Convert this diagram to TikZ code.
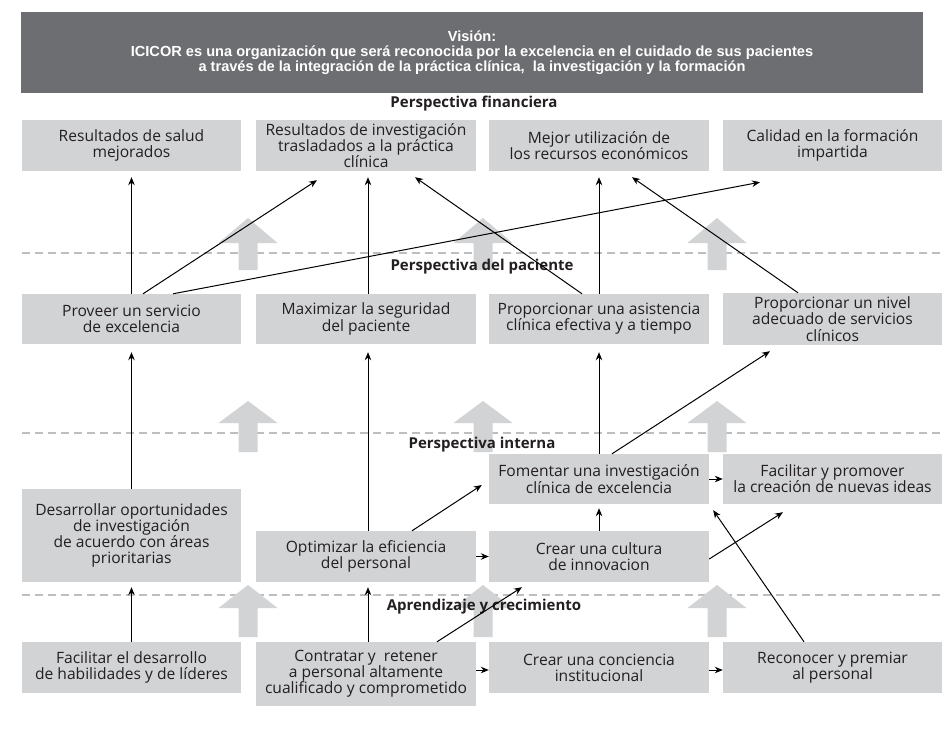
\documentclass[tikz,border=0pt]{standalone}
\usepackage{fontspec}
\setmainfont{Open Sans}
\newfontfamily\visfont{Liberation Sans}
\usetikzlibrary{arrows.meta}
\definecolor{boxgray}{HTML}{D1D3D4}
\definecolor{visgray}{HTML}{6D6E71}
\definecolor{dashgray}{HTML}{BCBEC0}
\definecolor{textc}{HTML}{231F20}
\begin{document}
\begin{tikzpicture}[x=1pt,y=-1pt,
  box/.style={fill=boxgray, inner sep=0pt, align=center, text=textc, font=\fontsize{15.6}{16.2}\selectfont},
  lab/.style={inner sep=0pt, text=textc, font=\fontsize{15}{16}\selectfont\bfseries},
  conn/.style={draw=black, line width=1pt, -{Stealth[length=8pt,width=6.5pt]}},
  sep/.style={draw=dashgray, line width=2pt, dash pattern=on 8pt off 5pt},
  bigarrow/.style={fill=boxgray}]
\useasboundingbox (0,0) rectangle (944,750);
\fill[white] (0,0) rectangle (944,750);

% vision
\node[fill=visgray, minimum width=902pt, minimum height=81pt, inner sep=0pt, text=white, align=center,
  font=\visfont\bfseries\fontsize{14.6}{15}\selectfont] (vis) at (472,52.5)
  {Visión:\\ICICOR es una organización que será reconocida por la excelencia en el cuidado de sus pacientes\\a través de la integración de la práctica clínica,\ \ la investigación y la formación};

% separators
\foreach \yy in {253,433,595} \draw[sep] (22,\yy) -- (942,\yy);

% big arrows
\foreach \tip/\base/\bot in {218/243/270, 401/423/452, 585/608/637}{
  \foreach \cx in {248,483,717}{
    \fill[bigarrow] (\cx,\tip) -- (\cx+29.5,\base) -- (\cx+9.5,\base) -- (\cx+9.5,\bot)
      -- (\cx-9.5,\bot) -- (\cx-9.5,\base) -- (\cx-29.5,\base) -- cycle;
  }
}

% section labels
\node[lab] (l1) at (474,104) {Perspectiva financiera};
\node[lab] (l2) at (482,267) {Perspectiva del paciente};
\node[lab] (l3) at (482,445) {Perspectiva interna};
\node[lab] (l4) at (484,607) {Aprendizaje y crecimiento};

% row 1
\node[box, minimum width=219pt, minimum height=51pt] (r1a) at (131.5,145.5) {Resultados de salud\\mejorados};
\node[box, minimum width=220pt, minimum height=51pt] (r1b) at (366,145.5) {Resultados de investigación\\trasladados a la práctica\\clínica};
\node[box, minimum width=220pt, minimum height=51pt] (r1c) at (599,145.5) {Mejor utilización de\\los recursos económicos};
\node[box, minimum width=219pt, minimum height=51pt] (r1d) at (832.5,145.5) {Calidad en la formación\\impartida};

% row 2
\node[box, minimum width=219pt, minimum height=50pt] (r2a) at (131.5,319) {Proveer un servicio\\de excelencia};
\node[box, minimum width=220pt, minimum height=50pt] (r2b) at (366,319) {Maximizar la seguridad\\del paciente};
\node[box, minimum width=220pt, minimum height=50pt] (r2c) at (599,319) {Proporcionar una asistencia\\clínica efectiva y a tiempo};
\node[box, minimum width=219pt, minimum height=52pt] (r2d) at (832.5,319) {Proporcionar un nivel\\adecuado de servicios\\clínicos};

% row 3
\node[box, minimum width=219pt, minimum height=93pt] (r3a) at (131.5,535.5) {Desarrollar oportunidades\\de investigación\\de acuerdo con áreas\\prioritarias};
\node[box, minimum width=220pt, minimum height=51pt] (r3b) at (366,556.5) {Optimizar la eficiencia\\del personal};
\node[box, minimum width=220pt, minimum height=50pt] (fom) at (599,479) {Fomentar una investigación\\clínica de excelencia};
\node[box, minimum width=219pt, minimum height=50pt] (fac) at (832.5,479) {Facilitar y promover\\la creación de nuevas ideas};
\node[box, minimum width=220pt, minimum height=51pt] (cul) at (599,556.5) {Crear una cultura\\de innovacion};

% row 4
\node[box, minimum width=219pt, minimum height=51pt] (r4a) at (131.5,667.5) {Facilitar el desarrollo\\de habilidades y de líderes};
\node[box, minimum width=220pt, minimum height=64pt] (r4b) at (366,674) {Contratar y\ \ retener\\a personal altamente\\cualificado y comprometido};
\node[box, minimum width=220pt, minimum height=51pt] (r4c) at (599,667.5) {Crear una conciencia\\institucional};
\node[box, minimum width=219pt, minimum height=51pt] (r4d) at (832.5,667.5) {Reconocer y premiar\\al personal};

% connectors row2 -> row1
\draw[conn] (r2a.north) -- ([yshift=-6pt]r1a.south);
\draw[conn] ([xshift=11.5pt]r2a.north) -- ([xshift=-49pt,yshift=-9pt]r1b.south);
\draw[conn] ([xshift=41.5pt]r2a.north) -- ([xshift=-72.5pt,yshift=-11pt]r1d.south);
\draw[conn] ([xshift=2pt]r2b.north) -- ([xshift=2pt,yshift=-6pt]r1b.south);
\draw[conn] ([xshift=-17pt]r2c.north) -- ([xshift=49pt,yshift=-6pt]r1b.south);
\draw[conn] (r2c.north) -- ([yshift=-6pt]r1c.south);
\draw[conn] ([xshift=-34.5pt]r2d.north) -- ([xshift=33pt,yshift=-6pt]r1c.south);

% row3 -> row2
\draw[conn] (r3a.north) -- ([yshift=-8pt]r2a.south);
\draw[conn] ([xshift=2pt]r3b.north) -- ([xshift=2pt,yshift=-8pt]r2b.south);
\draw[conn] (fom.north) -- ([yshift=-8pt]r2c.south);
\draw[conn] ([xshift=13pt]fom.north) -- ([xshift=-62.5pt,yshift=-6pt]r2d.south);

% within row 3
\draw[conn] (fom.east) -- (fac.west);
\draw[conn] ([xshift=46pt]r3b.north) -- ([xshift=-7pt,yshift=-6pt]fom.west);
\draw[conn] (r3b.east) -- (cul.west);
\draw[conn] (cul.north) -- ([yshift=-4pt]fom.south);
\draw[conn] ([yshift=-2.5pt]cul.east) -- ([xshift=-49.5pt,yshift=-8pt]fac.south);
\draw[conn] ([xshift=-28.5pt]r4d.north) -- ([xshift=4pt,yshift=-6pt]fom.south east);

% row4 -> row3
\draw[conn] (r4a.north) -- ([yshift=-5pt]r3a.south);
\draw[conn] ([xshift=2pt]r4b.north) -- ([xshift=2pt,yshift=-5pt]r3b.south);
\draw[conn] ([xshift=71pt]r4b.north) -- ([xshift=-77pt,yshift=-5pt]cul.south);
\draw[conn] (r4b.east |- r4c.east) ++(0,2.5) coordinate (c1) (c1) -- ([yshift=-2.5pt]r4c.west);
\draw[conn] ([yshift=-2.5pt]r4c.east) -- ([yshift=-2.5pt]r4d.west);
\end{tikzpicture}
\end{document}
